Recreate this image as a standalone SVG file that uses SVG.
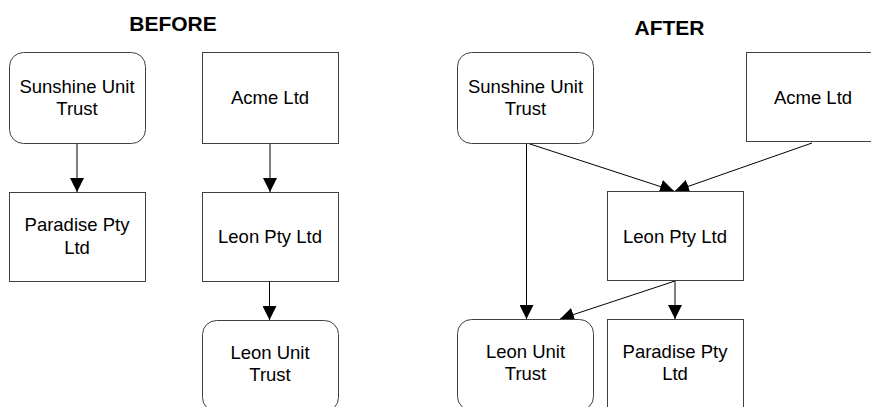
<svg xmlns="http://www.w3.org/2000/svg" width="871" height="407" viewBox="0 0 871 407">
<style>
.box{fill:#fff;stroke:#404040;stroke-width:1}
.t{font-family:"Liberation Sans",Arial,sans-serif;font-size:18.5px;fill:#000;text-anchor:middle}
.h{font-family:"Liberation Sans",Arial,sans-serif;font-size:21px;font-weight:bold;fill:#000;text-anchor:middle}
.c{fill:none;stroke:#000;stroke-width:1}
</style>
<defs>
<marker id="ah" markerUnits="userSpaceOnUse" markerWidth="14" markerHeight="14" refX="13" refY="6.5" orient="auto" viewBox="0 0 13 13">
<path d="M0,0 L13,6.5 L0,13 z" fill="#000"/>
</marker>
</defs>
<rect width="871" height="407" fill="#fff"/>
<text class="h" x="173" y="31">BEFORE</text>
<text class="h" x="669.5" y="35">AFTER</text>
<g id="connectors">
<line class="c" x1="77" y1="143" x2="77" y2="192" marker-end="url(#ah)"/>
<line class="c" x1="270" y1="143" x2="270" y2="192" marker-end="url(#ah)"/>
<line class="c" x1="269.5" y1="282" x2="269.5" y2="320" marker-end="url(#ah)"/>
<line class="c" x1="527" y1="143" x2="674" y2="191" marker-end="url(#ah)"/>
<line class="c" x1="812" y1="143" x2="675" y2="191" marker-end="url(#ah)"/>
<line class="c" x1="526.5" y1="143" x2="526.5" y2="319" marker-end="url(#ah)"/>
<line class="c" x1="675" y1="281" x2="560" y2="319" marker-end="url(#ah)"/>
<line class="c" x1="675" y1="281" x2="675" y2="319" marker-end="url(#ah)"/>
</g>
<g id="b_sunshine">
<rect class="box" x="9.5" y="52.5" width="136" height="91" rx="14"/>
<text class="t" x="77" y="92.5">Sunshine Unit</text>
<text class="t" x="77" y="115">Trust</text>
</g>
<g id="b_acme">
<rect class="box" x="202.5" y="52.5" width="136" height="91"/>
<text class="t" x="270" y="104">Acme Ltd</text>
</g>
<g id="b_paradise">
<rect class="box" x="9.5" y="192.5" width="136" height="89"/>
<text class="t" x="77" y="231">Paradise Pty</text>
<text class="t" x="77" y="253.5">Ltd</text>
</g>
<g id="b_leonpty">
<rect class="box" x="202.5" y="192.5" width="136" height="89"/>
<text class="t" x="270" y="243">Leon Pty Ltd</text>
</g>
<g id="b_leonunit">
<rect class="box" x="202.5" y="320.5" width="136" height="91" rx="14"/>
<text class="t" x="270" y="358.5">Leon Unit</text>
<text class="t" x="270" y="380.5">Trust</text>
</g>
<g id="a_sunshine">
<rect class="box" x="457.5" y="52.5" width="136" height="91" rx="14"/>
<text class="t" x="525.5" y="92.5">Sunshine Unit</text>
<text class="t" x="525.5" y="115">Trust</text>
</g>
<g id="a_acme">
<rect class="box" x="746.5" y="52.5" width="136" height="89"/>
<text class="t" x="813" y="104">Acme Ltd</text>
</g>
<g id="a_leonpty">
<rect class="box" x="607.5" y="191.5" width="136" height="89"/>
<text class="t" x="675" y="243">Leon Pty Ltd</text>
</g>
<g id="a_leonunit">
<rect class="box" x="457.5" y="319.5" width="136" height="91" rx="14"/>
<text class="t" x="525.5" y="358">Leon Unit</text>
<text class="t" x="525.5" y="380">Trust</text>
</g>
<g id="a_paradise">
<rect class="box" x="607.5" y="319.5" width="136" height="91"/>
<text class="t" x="675" y="358">Paradise Pty</text>
<text class="t" x="675" y="380">Ltd</text>
</g>
</svg>
